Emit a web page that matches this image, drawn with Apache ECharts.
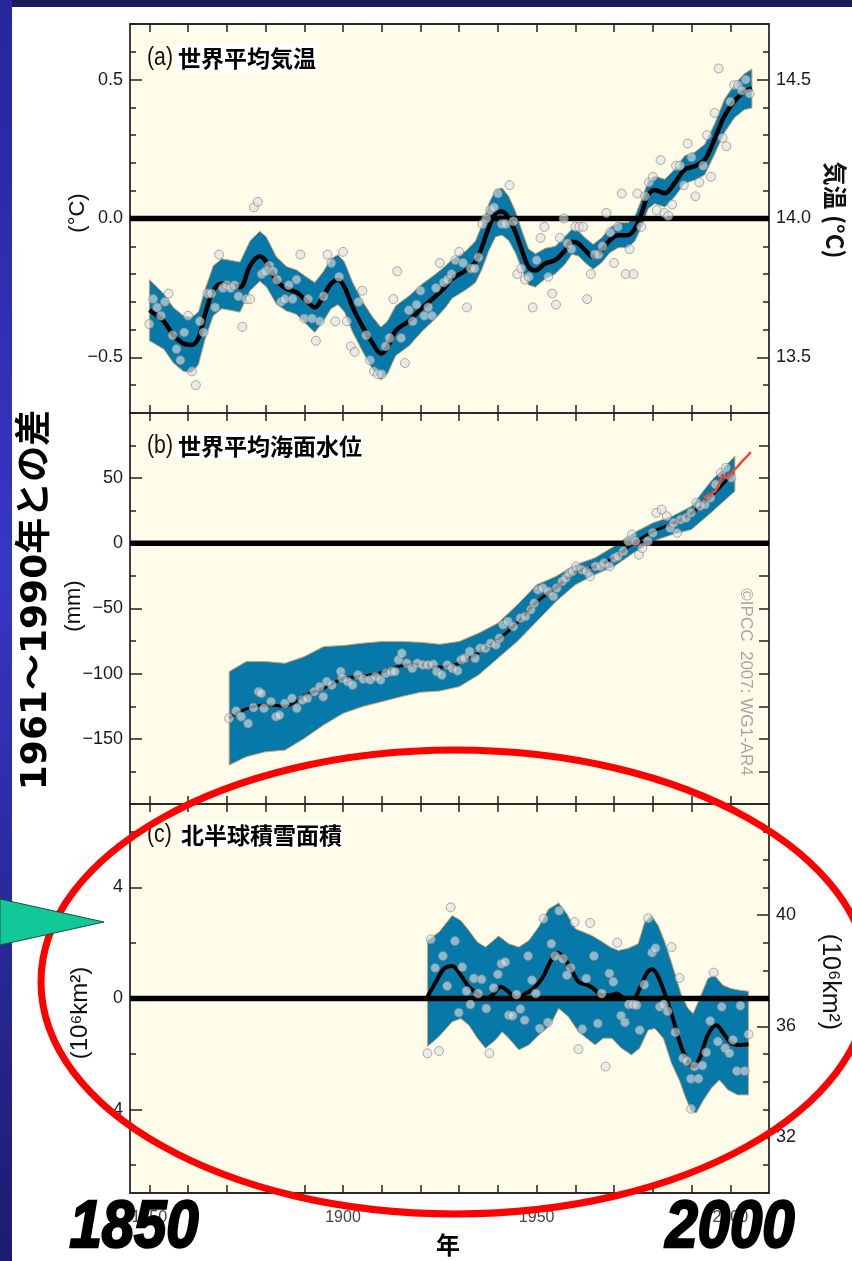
<!DOCTYPE html>
<html><head><meta charset="utf-8">
<script src="https://cdn.jsdelivr.net/npm/echarts@6/dist/echarts.min.js"></script>
<style>html,body{margin:0;padding:0;background:#fff;}#c{width:852px;height:1261px;}</style>
</head><body><div id="c"></div><script>
// ---------- axis ticks / labels ----------
const X_MIN = 1845, X_MAX = 2010;
const xTickYears = [1850,1860,1870,1880,1890,1900,1910,1920,1930,1940,1950,1960,1970,1980,1990,2000];
const xLabelYears = [1850,1900,1950,2000];
const tempTicksMajor = [-0.5,0,0.5];
const tempTicksMinor = [-0.7,-0.6,-0.5,-0.4,-0.3,-0.2,-0.1,0,0.1,0.2,0.3,0.4,0.5,0.6,0.7];
const tempAbsMajor = [13.5,14.0,14.5];
const tempAbsMinor = [13.3,13.4,13.5,13.6,13.7,13.8,13.9,14.0,14.1,14.2,14.3,14.4,14.5,14.6,14.7];
const seaTicksMajor = [-150,-100,-50,0,50];
const seaTicksMinor = [-200,-175,-150,-125,-100,-75,-50,-25,0,25,50,75,100];
const snowTicksMajor = [-4,0,4];
const snowTicksMinor = [-6,-4,-2,0,2,4,6];
const snowAbsMajor = [32,36,40];
const snowAbsMinor = [30,31,32,33,34,35,36,37,38,39,40,41,42,43,44];

// ---------- (a) global mean temperature anomaly, annual 1850-2005 ----------
const tempStartYear = 1850;
const tempAnom = [
-0.38,-0.29,-0.32,-0.35,-0.30,-0.27,-0.42,-0.47,-0.51,-0.41,
-0.35,-0.55,-0.60,-0.37,-0.41,-0.27,-0.27,-0.32,-0.13,-0.25,
-0.24,-0.25,-0.24,-0.28,-0.39,-0.29,-0.29,0.04,0.06,-0.20,
-0.19,-0.17,-0.19,-0.22,-0.30,-0.29,-0.24,-0.29,-0.22,-0.13,
-0.36,-0.29,-0.36,-0.44,-0.37,-0.28,-0.13,-0.16,-0.37,-0.21,
-0.12,-0.37,-0.46,-0.48,-0.30,-0.26,-0.42,-0.51,-0.55,-0.56,
-0.56,-0.46,-0.43,-0.29,-0.19,-0.43,-0.52,-0.33,-0.37,-0.31,
-0.26,-0.35,-0.32,-0.35,-0.25,-0.16,-0.23,-0.22,-0.20,-0.15,
-0.12,-0.16,-0.32,-0.18,-0.18,-0.14,-0.02,0.00,0.03,0.04,
0.09,-0.02,-0.02,0.12,-0.01,-0.20,-0.18,-0.22,-0.21,-0.32,
-0.15,-0.07,-0.03,-0.21,-0.27,-0.31,-0.07,0.00,-0.09,-0.11,
-0.03,-0.03,-0.03,-0.29,-0.20,-0.13,-0.13,-0.10,0.02,-0.05,
-0.16,-0.03,0.09,-0.20,-0.11,-0.20,0.09,-0.03,0.08,0.13,
0.15,0.03,0.21,0.02,0.01,0.05,0.19,0.19,0.12,0.27,
0.22,0.08,0.13,0.19,0.30,0.15,0.38,0.54,0.29,0.26,
0.42,0.48,0.48,0.46,0.50,0.45];
const tempSmoothYears = [1850,1853.7,1856.2,1858.8,1861,1862.7,1864.4,1866.5,1868.7,1870.8,1873.4,1876,1878.5,1880.2,1882.8,1885.4,1888,1890.5,1892.7,1894.8,1896.9,1898.7,1900.4,1902.5,1905.1,1907.7,1909.8,1911.5,1913.6,1917.1,1920.5,1923.9,1926.5,1928.2,1931.7,1934.2,1935.9,1937.7,1939.4,1941.1,1942.8,1944.5,1946.2,1947.9,1949.7,1952.2,1954.8,1957.4,1959.1,1960.8,1962.5,1964.6,1966.8,1968.9,1971.1,1973.6,1975.4,1977.1,1978.8,1980.5,1983.1,1985.6,1988.2,1990.8,1993.4,1995.9,1998.5,2001.1,2003.6,2005.6];
const tempSmooth = [-0.33,-0.37,-0.42,-0.45,-0.455,-0.43,-0.344,-0.26,-0.235,-0.24,-0.247,-0.17,-0.136,-0.156,-0.223,-0.253,-0.265,-0.295,-0.32,-0.283,-0.235,-0.22,-0.247,-0.32,-0.39,-0.45,-0.486,-0.464,-0.404,-0.368,-0.32,-0.28,-0.245,-0.217,-0.187,-0.156,-0.102,-0.03,0.019,0.025,0.0,-0.048,-0.114,-0.174,-0.187,-0.162,-0.15,-0.114,-0.084,-0.09,-0.114,-0.138,-0.114,-0.078,-0.06,-0.06,-0.036,0.019,0.085,0.103,0.091,0.127,0.176,0.188,0.212,0.284,0.369,0.423,0.456,0.468];
const tempBandHalf = [0.11,0.10,0.10,0.10,0.10,0.095,0.09,0.09,0.09,0.09,0.09,0.09,0.09,0.09,0.085,0.08,0.08,0.085,0.09,0.09,0.09,0.09,0.09,0.09,0.09,0.095,0.095,0.095,0.09,0.09,0.085,0.08,0.075,0.07,0.07,0.075,0.08,0.085,0.085,0.085,0.08,0.075,0.07,0.065,0.06,0.055,0.05,0.05,0.045,0.045,0.045,0.045,0.045,0.045,0.045,0.045,0.045,0.05,0.05,0.05,0.05,0.05,0.05,0.05,0.055,0.055,0.06,0.06,0.065,0.07];

// ---------- (b) global mean sea level (mm) ----------
const seaYears = [1870.6,1872.4,1873.7,1875.5,1876.9,1878.2,1878.9,1879.6,1881.4,1882.7,1883.6,1885.0,1886.8,1888.1,1889.5,1890.8,1892.6,1894.0,1894.9,1895.8,1897.1,1899.4,1899.8,1901.2,1902.5,1903.9,1905.2,1907.0,1908.4,1909.7,1911.1,1912.5,1913.4,1914.3,1915.2,1916.5,1917.9,1919.2,1920.6,1921.9,1923.3,1924.2,1925.5,1926.9,1928.2,1929.6,1930.5,1931.4,1932.7,1934.1,1935.4,1936.8,1938.1,1939.5,1940.4,1941.3,1942.6,1944.0,1945.8,1947.1,1948.5,1949.4,1950.3,1951.6,1953.0,1954.3,1955.2,1956.6,1957.5,1958.4,1959.3,1960.2,1961.6,1962.9,1963.8,1965.2,1966.5,1967.4,1968.8,1970.1,1971.0,1972.4,1973.7,1974.6,1975.5,1976.4,1977.3,1978.7,1980.0,1980.9,1982.3,1983.6,1984.5,1985.4,1986.3,1987.2,1988.6,1989.9,1991.3,1992.2,1993.5,1994.9,1996.2,1997.6,1998.9,2000.3];
const seaVals = [-134.3,-128.7,-133.0,-138.2,-126.1,-113.8,-115.1,-126.6,-121.5,-133.0,-131.8,-122.8,-118.9,-126.6,-120.2,-118.9,-113.8,-110.0,-117.7,-106.1,-108.7,-98.4,-103.5,-106.1,-108.7,-101.0,-104.1,-104.8,-102.3,-104.8,-99.7,-98.4,-98.4,-89.4,-84.3,-92.0,-95.9,-92.0,-93.3,-93.3,-92.8,-98.4,-101.0,-93.3,-95.9,-97.9,-89.4,-88.2,-83.0,-88.2,-80.5,-80.5,-76.6,-77.9,-72.8,-62.5,-60.0,-63.8,-57.4,-56.1,-51.0,-45.9,-35.6,-34.3,-36.9,-40.7,-34.3,-29.2,-26.6,-22.8,-21.5,-17.7,-20.2,-21.5,-25.3,-17.7,-17.7,-15.1,-17.7,-11.2,-10.0,-6.1,1.6,6.7,1.6,-8.7,-3.6,1.6,8.0,23.4,25.9,20.8,11.8,15.7,8.0,18.2,19.5,23.4,31.1,28.5,29.8,34.9,45.2,54.1,58.0,50.3];
const seaSmoothYears = [1870.6,1875,1880,1885,1890,1895,1900,1905,1910,1915,1920,1925,1930,1935,1940,1945,1950,1955,1960,1965,1970,1975,1980,1985,1990,1995,2000.8];
const seaSmooth = [-134,-127,-124,-125,-117,-111,-104,-102,-99,-94,-93,-95,-92,-84,-74,-61,-45,-34,-22,-18,-11,0,9,15,23,36,54];
const seaBandYears = [1870.6,1875,1880,1885,1890,1895,1900,1905,1910,1915,1920,1925,1930,1935,1940,1945,1950,1955,1960,1965,1970,1975,1980,1985,1990,1995,2001.2];
const seaBandUpper = [-98.4,-90.7,-90.7,-92,-86.9,-79.2,-78.4,-76.6,-75.3,-75.3,-75.9,-77.4,-75.3,-68.9,-61.2,-47.1,-31.8,-25.3,-16.4,-11.2,-2.3,8,15.7,20.8,28.5,47.7,67];
const seaBandLower = [-170.2,-163.8,-160,-158.7,-149.7,-139.4,-130.5,-125.3,-121.5,-117.7,-114.3,-113.3,-110,-101,-88.2,-75.3,-60,-44.6,-31.8,-24.1,-17.7,-7.4,1.6,6.7,10.6,23.4,40];
const seaSatYears = [1993.1,1994.5,1995.5,1996.2,1997.2,1998.0,1998.9,1999.6,2000.3,2001.6,2002.5,2003.4,2004.4,2005.3];
const seaSat = [35,37,39,40,46,53,50,52,54,58,61,64,67,70];

// ---------- (c) NH snow cover anomaly (10^6 km^2) ----------
const snowYears = [1921.8,1922.7,1923.8,1924.8,1925.8,1926.9,1927.8,1928.9,1929.9,1930.8,1931.9,1932.9,1933.8,1934.9,1935.8,1937.0,1937.8,1938.9,1940.0,1940.9,1941.9,1942.8,1943.8,1944.8,1945.8,1946.9,1947.8,1948.8,1949.8,1950.8,1951.8,1952.9,1953.8,1954.8,1955.8,1956.8,1957.8,1958.8,1959.8,1960.8,1961.8,1962.8,1963.8,1964.8,1965.8,1966.8,1967.8,1968.8,1969.8,1970.8,1971.8,1972.8,1973.8,1974.9,1975.8,1976.6,1977.8,1978.8,1979.8,1980.7,1981.8,1982.8,1983.8,1984.8,1985.8,1986.9,1987.8,1988.8,1989.8,1989.9,1990.8,1991.8,1992.8,1993.8,1994.8,1995.7,1996.8,1997.8,1998.7,1999.8,2000.7,2001.7,2002.6,2003.7,2004.7];
const snowVals = [-1.97,2.13,1.10,-1.89,1.53,0.45,3.28,2.07,-0.51,1.13,0.27,-0.22,0.72,0.18,0.69,-0.36,-1.97,0.38,0.87,1.25,1.31,-0.60,-0.62,0.14,-0.38,-0.78,1.53,0.66,0.18,-1.08,2.87,-0.86,1.97,1.53,3.16,1.43,0.84,1.10,2.75,-1.82,-1.10,0.72,2.72,1.53,-0.90,0.18,-2.45,0.90,0.60,2.01,-0.62,-0.86,-0.22,-0.22,-0.24,-1.14,0.50,2.89,1.65,1.81,-0.30,-0.22,-0.46,1.85,-1.22,0.74,-2.15,-2.25,-2.89,-3.97,-2.45,-2.89,-2.41,-1.94,-0.81,0.93,-1.55,-0.30,-1.79,-1.97,-1.49,-2.61,-0.26,-2.61,-1.29];
const snowSmoothYears = [1921.8,1924,1926.1,1928.2,1930.4,1932.5,1934.7,1936.8,1938.9,1940.7,1942.8,1945,1947.1,1949.2,1951.4,1953.5,1955.2,1956.9,1959.1,1960.8,1962.9,1964.7,1966.8,1969,1970.7,1972.8,1975,1976.6,1978.4,1979.8,1981.4,1983.5,1985.2,1986.9,1988.6,1990.4,1992.1,1994.2,1996.4,1998.1,2000.2,2002.4,2004.7];
const snowSmooth = [0.06,0.60,1.07,1.17,0.84,0.42,0.18,-0.02,0.18,0.42,0.24,-0.02,0.18,0.36,0.72,1.31,1.65,1.49,1.01,0.60,0.50,0.36,0.12,0.12,0.18,0.0,0.0,0.36,0.90,1.05,0.78,0.0,-0.72,-1.55,-2.15,-2.45,-2.15,-1.31,-0.96,-1.22,-1.61,-1.67,-1.65];
const snowUpYears = [1921.8,1924.8,1928.2,1930.4,1932.5,1934.7,1936.8,1940.2,1942.8,1945.4,1948,1950.5,1953.1,1955.7,1957.8,1960,1962.1,1964.2,1966.4,1969,1971.1,1973.7,1976.2,1977.9,1979.6,1981.4,1983.1,1984.8,1987.4,1989.1,1990.4,1992.1,1994.2,1995.9,1998.1,2000.2,2002.4,2004.7];
const snowUp = [2.09,2.39,2.99,2.81,2.45,2.03,1.85,2.25,1.97,1.85,2.09,2.57,3.22,3.44,3.05,2.51,2.39,2.27,2.09,1.85,1.73,1.81,1.97,2.75,2.99,2.63,2.03,1.31,0.12,-0.36,-0.54,0.0,0.72,0.84,0.48,0.36,0.30,0.26];
const snowLoYears = [1921.8,1924.8,1928.2,1930.4,1932.5,1934.7,1936.8,1939.4,1941.1,1942.8,1945.4,1948,1950.5,1953.5,1955.7,1958.2,1960.8,1962.9,1965.1,1967.2,1969.4,1971.9,1974.5,1976.6,1978.8,1980.5,1982.7,1984.8,1987,1988.2,1989.9,1991.2,1992.9,1995.1,1997.2,1999.4,2001.9,2004.7];
const snowLo = [-1.73,-1.37,-0.84,-0.72,-0.96,-1.43,-1.79,-1.49,-1.20,-1.43,-1.85,-1.67,-1.32,-0.96,-0.36,-0.66,-1.20,-1.43,-1.67,-1.43,-1.43,-1.79,-2.03,-1.79,-1.14,-1.08,-1.43,-2.33,-2.99,-3.47,-4.06,-4.12,-3.70,-3.23,-2.93,-3.29,-3.47,-3.47];

// ---------- helpers ----------
const NARROW = "'Liberation Sans Narrow','Liberation Sans',Arial,sans-serif";
const SANS = "'Liberation Sans',Arial,sans-serif";
const CJK = "'Noto Sans CJK JP','Noto Sans CJK SC',sans-serif";
const pairs = (xs, ys) => xs.map((x, i) => [x, ys[i]]);
const minus = s => s.replace('-', '\u2212');
const fmt1 = v => minus(Number(v).toFixed(1));
const fmt0 = v => minus(String(Math.round(v)));

const axisLineStyle = {color:'#2b2b2b', width:1.8};
function xAx(grid, pos, labels) {
  return {type:'value', gridIndex:grid, position:pos, min:X_MIN, max:X_MAX,
    axisLine:{show:true, onZero:false, lineStyle:axisLineStyle},
    axisTick:{show:true, inside:true, length:8, customValues:xTickYears, lineStyle:{color:'#222', width:1.5}},
    axisLabel:{show:labels, customValues:xLabelYears, margin:17, fontFamily:NARROW, fontSize:16, color:'#444', formatter:v=>String(v)},
    splitLine:{show:false}};
}
function yAx(grid, pos, min, max, ticks, len, labels, fmt, line) {
  return {type:'value', gridIndex:grid, position:pos, min:min, max:max,
    axisLine:{show:line, onZero:false, lineStyle:axisLineStyle},
    axisTick:{show:true, inside:true, length:len, customValues:ticks, lineStyle:{color:'#222', width:1.5}},
    axisLabel:labels ? {show:true, customValues:labels, formatter:fmt, margin:7, fontFamily:NARROW, fontSize:18, color:'#1a1a1a'} : {show:false},
    splitLine:{show:false}};
}
function band(xi, yi, upX, upY, loX, loY) {
  return {type:'custom', xAxisIndex:xi, yAxisIndex:yi, z:1, silent:true, data:[[1950,0]],
    renderItem:function(params, api){
      const pts = [];
      for (let i = 0; i < upX.length; i++) pts.push(api.coord([upX[i], upY[i]]));
      for (let i = loX.length - 1; i >= 0; i--) pts.push(api.coord([loX[i], loY[i]]));
      return {type:'polygon', shape:{points:pts}, style:{fill:'#0679a9', stroke:'#d9a36a', lineWidth:1}};
    }};
}
function smoothLine(xi, yi, data, w) {
  return {type:'line', xAxisIndex:xi, yAxisIndex:yi, z:2, data:data, smooth:0.35, showSymbol:false, silent:true,
    lineStyle:{color:'#000', width:w}};
}
function zeroLine(xi, yi) {
  return {type:'line', xAxisIndex:xi, yAxisIndex:yi, z:3, data:[[X_MIN,0],[X_MAX,0]], showSymbol:false, silent:true,
    lineStyle:{color:'#000', width:5.5}};
}
function dots(xi, yi, data) {
  return {type:'scatter', xAxisIndex:xi, yAxisIndex:yi, z:4, data:data, symbolSize:9, silent:true,
    itemStyle:{color:'rgba(222,224,226,0.78)', borderColor:'#7f7f7f', borderWidth:0.8}};
}
function txt(x, y, text, font, extra) {
  return Object.assign({type:'text', x:x, y:y, z:50,
    style:Object.assign({text:text, fill:'#111', align:'center', verticalAlign:'middle', textAlign:'center', textVerticalAlign:'middle'}, font)}, extra || {});
}

const tempPts = tempAnom.map((v, i) => [tempStartYear + i, v]);
const tempUp = tempSmooth.map((v, i) => v + tempBandHalf[i]);
const tempLo = tempSmooth.map((v, i) => v - tempBandHalf[i]);

const gridBase = {left:130, width:639, show:true, backgroundColor:'#fffde9', borderWidth:0, containLabel:false, outerBoundsMode:'none'};
const titleCJK = {fontFamily:CJK, fontWeight:'bold', fontSize:23, fill:'#000', backgroundColor:'#ffffff', padding:[2,1,2,1], align:'left', textAlign:'left'};
const titleTag = {fontFamily:SANS, fontSize:25, fill:'#111', align:'left', textAlign:'left'};
const bigYear = {fontFamily:SANS, fontStyle:'italic', fontWeight:'bold', fontSize:66, fill:'#000', stroke:'#000', lineWidth:2.5};

const option = {
  animation:false,
  backgroundColor:'#ffffff',
  grid:[
    Object.assign({top:24, height:389}, gridBase),
    Object.assign({top:413, height:391}, gridBase),
    Object.assign({top:804, height:389}, gridBase)
  ],
  xAxis:[xAx(0,'bottom',false), xAx(0,'top',false), xAx(1,'bottom',false), xAx(1,'top',false), xAx(2,'bottom',true), xAx(2,'top',false)],
  yAxis:[
    yAx(0,'left',-0.7,0.7,tempTicksMajor,12,tempTicksMajor,fmt1,true),
    yAx(0,'left',-0.7,0.7,tempTicksMinor,6,null,null,false),
    yAx(0,'right',13.3,14.7,tempAbsMajor,12,tempAbsMajor,fmt1,true),
    yAx(0,'right',13.3,14.7,tempAbsMinor,6,null,null,false),
    yAx(1,'left',-200,100,seaTicksMajor,12,seaTicksMajor,fmt0,true),
    yAx(1,'left',-200,100,seaTicksMinor,6,null,null,false),
    yAx(1,'right',-200,100,seaTicksMinor,10,null,null,true),
    yAx(2,'left',-7,7,snowTicksMajor,12,snowTicksMajor,fmt0,true),
    yAx(2,'left',-7,7,snowTicksMinor,6,null,null,false),
    yAx(2,'right',30,44,snowAbsMajor,12,snowAbsMajor,v=>String(v),true),
    yAx(2,'right',30,44,snowAbsMinor,6,null,null,false)
  ],
  series:[
    band(0,0,tempSmoothYears,tempUp,tempSmoothYears,tempLo),
    smoothLine(0,0,pairs(tempSmoothYears,tempSmooth),4.5),
    zeroLine(0,0),
    dots(0,0,tempPts),
    band(2,4,seaBandYears,seaBandUpper,seaBandYears,seaBandLower),
    smoothLine(2,4,pairs(seaSmoothYears,seaSmooth),3),
    zeroLine(2,4),
    dots(2,4,pairs(seaYears,seaVals)),
    {type:'line', xAxisIndex:2, yAxisIndex:4, z:5, data:pairs(seaSatYears,seaSat), showSymbol:false, silent:true,
      lineStyle:{color:'#ee4a3a', width:2.5}},
    band(4,7,snowUpYears,snowUp,snowLoYears,snowLo),
    smoothLine(4,7,pairs(snowSmoothYears,snowSmooth),4),
    zeroLine(4,7),
    dots(4,7,pairs(snowYears,snowVals))
  ],
  graphic:{elements:[
    {type:'rect', shape:{x:0,y:0,width:852,height:7}, style:{fill:'#1b1b5c'}, z:0},
    {type:'rect', shape:{x:0,y:0,width:12,height:1261}, style:{fill:{type:'linear',x:0,y:0,x2:0,y2:1,colorStops:[{offset:0,color:'#26269c'},{offset:0.45,color:'#3636c6'},{offset:1,color:'#1c1c70'}]}}, z:0},
    // panel titles
    txt(147, 58, '(a)', titleTag, {scaleX:0.85}),
    txt(177, 58, '世界平均気温', titleCJK),
    txt(147, 446, '(b)', titleTag, {scaleX:0.85}),
    txt(177, 446, '世界平均海面水位', titleCJK),
    txt(147, 835, '(c)', titleTag, {scaleX:0.85}),
    txt(180, 835, '北半球積雪面積', titleCJK),
    // left axis names
    txt(78, 213, '(°C)', {fontFamily:SANS, fontSize:22}, {rotation:Math.PI/2}),
    txt(74, 606, '(mm)', {fontFamily:SANS, fontSize:22}, {rotation:Math.PI/2}),
    txt(80, 1013, '(10\u2076km\u00B2)', {fontFamily:SANS, fontSize:24}, {rotation:Math.PI/2}),
    // right axis names
    txt(835, 210, '気温 (°C)', {fontFamily:"'Noto Sans CJK JP','Liberation Sans',sans-serif", fontWeight:'bold', fontSize:24}, {rotation:-Math.PI/2}),
    txt(830, 982, '(10\u2076km\u00B2)', {fontFamily:SANS, fontSize:25}, {rotation:-Math.PI/2}),
    // copyright
    txt(746, 682, '©IPCC  2007: WG1-AR4', {fontFamily:SANS, fontSize:17, fill:'#a4a4a4'}, {rotation:-Math.PI/2}),
    // big left title
    txt(37, 600, '1961～1990年との差', {fontFamily:"'DejaVu Sans','Noto Sans CJK JP',sans-serif", fontWeight:'bold', fontSize:36, fill:'#000'}, {rotation:Math.PI/2}),
    // red ellipse and arrow
    {type:'ellipse', shape:{cx:455, cy:982, rx:414, ry:232}, style:{fill:'none', stroke:'#ff0000', lineWidth:7}, z:60},
    {type:'polygon', shape:{points:[[0,899],[104,922],[0,945]]}, style:{fill:'#10c898', stroke:'#1e4d40', lineWidth:1}, z:61},
    // x axis title and big year labels
    Object.assign(txt(448, 1245, '年', {fontFamily:CJK, fontWeight:'bold', fontSize:24, fill:'#000'}), {z:62}),
    Object.assign(txt(134, 1229, '1850', bigYear, {scaleX:0.88}), {z:62}),
    Object.assign(txt(730, 1229, '2000', bigYear, {scaleX:0.88}), {z:62})
  ]}
};

const chart = echarts.init(document.getElementById('c'), null, {renderer:'canvas', width:852, height:1261});
chart.setOption(option);
</script></body></html>
